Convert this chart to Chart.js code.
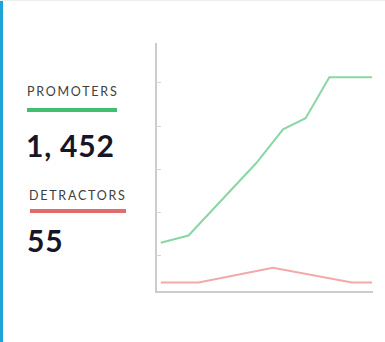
<!DOCTYPE html>
<html>
<head>
<meta charset="utf-8">
<script src="https://cdn.jsdelivr.net/npm/chart.js@4/dist/chart.umd.min.js"></script>
<style>
  html, body { margin:0; padding:0; background:#fff; }
  body { width:385px; height:342px; position:relative; overflow:hidden; font-family: Lato, "Open Sans", sans-serif; }
  .bar { position:absolute; left:0; top:0; width:3px; height:342px; background:#1ea3d9; }
  .topline { position:absolute; left:0; top:0; width:385px; height:1px; background:#eeeeee; }
  .label { position:absolute; font-size:12.5px; letter-spacing:1.75px; color:#404040; line-height:1; }
  .swatch { position:absolute; height:4px; }
  .value { position:absolute; font-size:30px; font-weight:700; color:#161628; line-height:1; letter-spacing:0.8px; }
  #c { position:absolute; left:0; top:0; }
</style>
</head>
<body>
<div class="bar"></div>
<div class="topline"></div>
<div class="label" id="l1" style="left:27px; top:86px;"></div>
<div class="swatch" style="left:27px; top:107.5px; width:90px; background:#3fbf6f;"></div>
<div class="value" id="v1" style="left:26px; top:130px;"></div>
<div class="label" id="l2" style="left:29px; top:190px;"></div>
<div class="swatch" style="left:30px; top:208.5px; width:96px; background:#e26b6b;"></div>
<div class="value" id="v2" style="left:27px; top:225px;"></div>
<canvas id="c" width="385" height="342"></canvas>
<script>
const seriesNames = ["PROMOTERS", "DETRACTORS"];
const totals = ["1, 452", "55"];
const promotersX = [0, 2.76, 9.5, 12.16, 14.4, 16.76, 21];
const promotersY = [128, 145, 313, 391, 417, 512, 512];
const detractorsX = [0, 3.76, 11.16, 19, 21];
const detractorsY = [36, 36, 70, 36, 36];
const yTicks = [100, 200, 300, 400, 500];

document.getElementById('l1').textContent = seriesNames[0];
document.getElementById('l2').textContent = seriesNames[1];
document.getElementById('v1').textContent = totals[0];
document.getElementById('v2').textContent = totals[1];

const innerTicks = {
  id: 'innerTicks',
  afterDatasetsDraw(chart) {
    const y = chart.scales.y, ctx = chart.ctx, left = chart.chartArea.left;
    ctx.save();
    ctx.strokeStyle = '#d6d6d6';
    ctx.lineWidth = 1;
    yTicks.forEach(v => {
      const py = Math.round(y.getPixelForValue(v)) + 0.5;
      ctx.beginPath();
      ctx.moveTo(left, py);
      ctx.lineTo(left + 5, py);
      ctx.stroke();
    });
    ctx.restore();
  }
};

new Chart(document.getElementById('c'), {
  type: 'line',
  data: {
    datasets: [
      { label: seriesNames[0], data: promotersX.map((x, i) => ({x, y: promotersY[i]})),
        borderColor: '#8ad6a4', borderWidth: 2, pointRadius: 0, tension: 0, fill: false },
      { label: seriesNames[1], data: detractorsX.map((x, i) => ({x, y: detractorsY[i]})),
        borderColor: '#f3a9a9', borderWidth: 2, pointRadius: 0, tension: 0, fill: false }
    ]
  },
  plugins: [innerTicks],
  options: {
    responsive: false,
    animation: false,
    events: [],
    layout: { padding: { left: 156, top: 44, right: 13, bottom: 50 } },
    plugins: { legend: { display: false }, tooltip: { enabled: false } },
    scales: {
      x: { type: 'linear', min: -0.47, max: 21,
           ticks: { display: false }, grid: { display: false, drawTicks: false },
           border: { display: true, color: '#cccccc', width: 2 } },
      y: { min: 14, max: 589,
           afterBuildTicks: s => { s.ticks = yTicks.map(v => ({value: v})); },
           ticks: { display: false }, grid: { display: false, drawTicks: false },
           border: { display: true, color: '#cccccc', width: 2 } }
    }
  }
});
</script>
</body>
</html>
